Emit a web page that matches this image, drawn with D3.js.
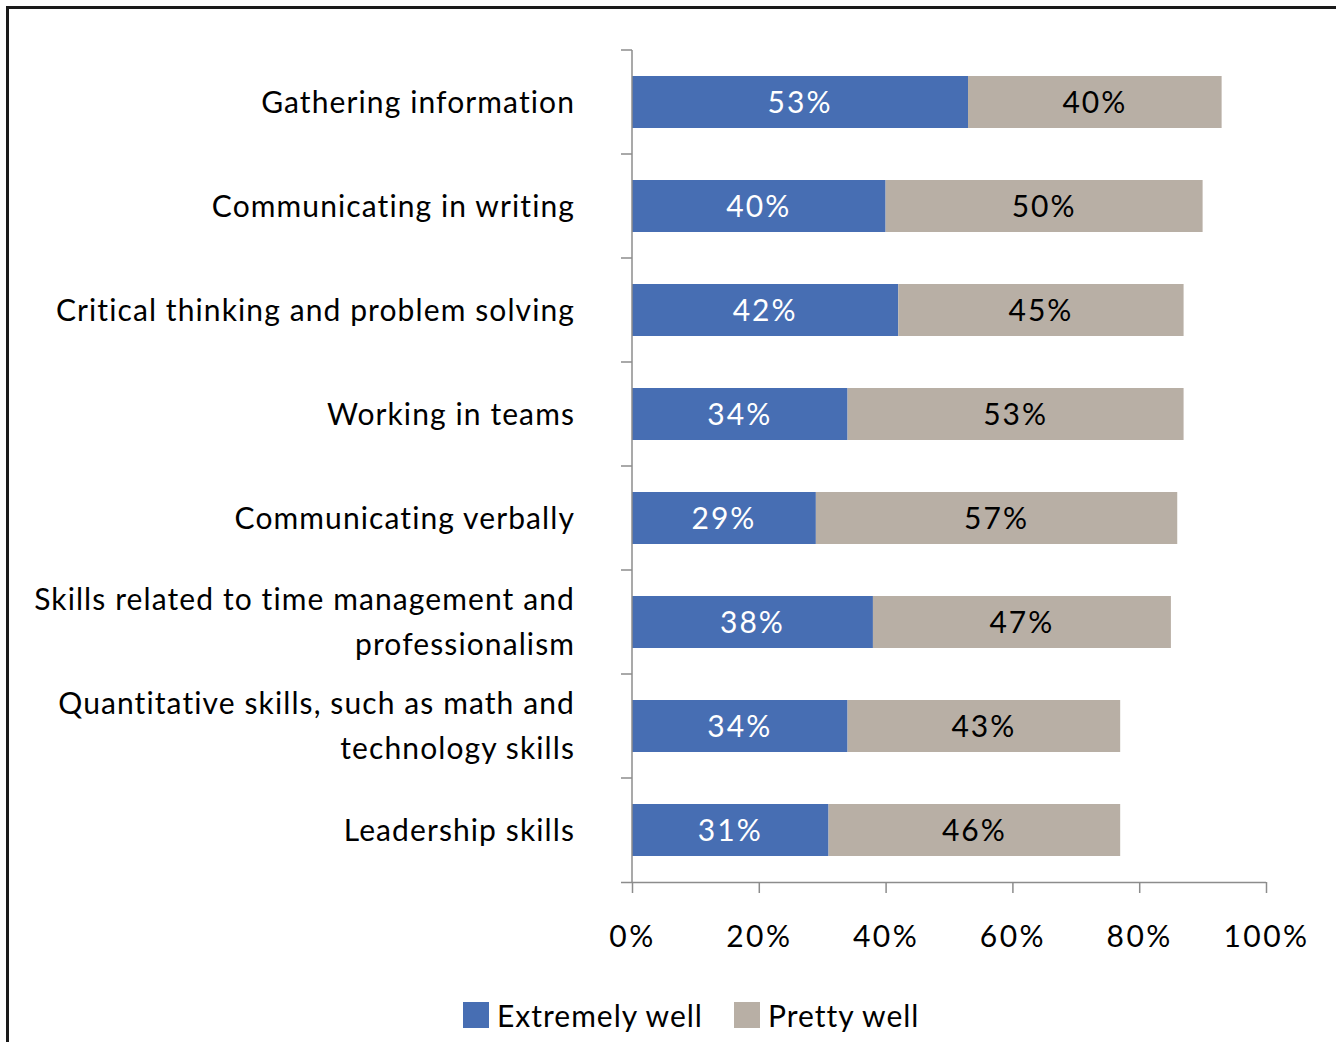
<!DOCTYPE html>
<html>
<head>
<meta charset="utf-8">
<script src="https://cdn.jsdelivr.net/npm/d3@7"></script>
<style>
  body { margin: 0; background: #fff; }
  svg text { font-family: Lato, "Open Sans", sans-serif; }
</style>
</head>
<body>
<div class="chart"></div>
<script>
// data
const categories = [
  'Gathering information',
  'Communicating in writing',
  'Critical thinking and problem solving',
  'Working in teams',
  'Communicating verbally',
  'Skills related to time management and|professionalism',
  'Quantitative skills, such as math and|technology skills',
  'Leadership skills'
];
const extremelyWell = [53, 40, 42, 34, 29, 38, 34, 31];
const prettyWell = [40, 50, 45, 53, 57, 47, 43, 46];
const seriesNames = ['Extremely well', 'Pretty well'];
const tickValues = [0, 20, 40, 60, 80, 100];

const W = 1336, H = 1042;
const blue = '#476eb3', grey = '#b8afa5';

const svg = d3.select('.chart')
  .append('svg')
  .attr('width', W)
  .attr('height', H);

// frame
svg.append('path')
  .attr('d', `M7.5,${H} V7.5 H${W}`)
  .style('fill', 'none')
  .style('stroke', '#1a1a1a')
  .style('stroke-width', 3);

const x = d3.scaleLinear().domain([0, 100]).range([632, 1266]);
const y = d3.scaleBand().domain(categories).range([50, 882]).paddingInner(0.5).paddingOuter(0.25);

const rows = categories.map((c, i) => ({cat: c, a: extremelyWell[i], b: prettyWell[i]}));

// bars
const g = svg.append('g');
g.selectAll('.blue').data(rows).join('rect')
  .attr('x', x(0))
  .attr('y', d => y(d.cat))
  .attr('width', d => x(d.a) - x(0))
  .attr('height', y.bandwidth())
  .style('fill', blue);
g.selectAll('.grey').data(rows).join('rect')
  .attr('x', d => x(d.a))
  .attr('y', d => y(d.cat))
  .attr('width', d => x(d.a + d.b) - x(d.a))
  .attr('height', y.bandwidth())
  .style('fill', grey);

// value labels
g.selectAll('.la').data(rows).join('text')
  .attr('x', d => x(d.a / 2))
  .attr('y', d => y(d.cat) + y.bandwidth() / 2)
  .attr('dy', '0.35em')
  .attr('text-anchor', 'middle')
  .style('font-size', '30px')
  .style('letter-spacing', '2px')
  .style('fill', '#fff')
  .text(d => d.a + '%');
g.selectAll('.lb').data(rows).join('text')
  .attr('x', d => x(d.a + d.b / 2))
  .attr('y', d => y(d.cat) + y.bandwidth() / 2)
  .attr('dy', '0.35em')
  .attr('text-anchor', 'middle')
  .style('font-size', '30px')
  .style('letter-spacing', '2px')
  .style('fill', '#000')
  .text(d => d.b + '%');

// y axis line + ticks at band boundaries
const axisCol = '#8c8c8c';
svg.append('line')
  .attr('x1', x(0)).attr('x2', x(0))
  .attr('y1', 50).attr('y2', 882)
  .style('stroke', axisCol).style('stroke-width', 1.5);
const step = y.step();
for (let i = 0; i < categories.length; i++) {
  svg.append('line')
    .attr('x1', 621).attr('x2', x(0))
    .attr('y1', 50 + i * step).attr('y2', 50 + i * step)
    .style('stroke', axisCol).style('stroke-width', 1.5);
}

// x axis
const xAxis = svg.append('g')
  .attr('transform', 'translate(0,882)')
  .call(d3.axisBottom(x).tickValues(tickValues).tickSize(11).tickFormat(d => d + '%'));
xAxis.select('.domain').attr('d', `M621,0.5H${x(100)}`).style('stroke', axisCol).style('stroke-width', 1.5);
xAxis.selectAll('.tick line').style('stroke', axisCol).style('stroke-width', 1.5);
xAxis.selectAll('.tick text')
  .attr('y', 44)
  .attr('dy', '0.71em')
  .style('font-size', '30px')
  .style('letter-spacing', '2.5px')
  .style('font-family', 'Lato, sans-serif')
  .style('fill', '#000');

// category labels
g.selectAll('.cat').data(rows).join('text')
  .attr('text-anchor', 'end')
  .attr('x', 575)
  .attr('y', d => y(d.cat) + y.bandwidth() / 2)
  .style('font-size', '30px')
  .style('letter-spacing', '1.1px')
  .style('fill', '#000')
  .each(function(d) {
    const lines = d.cat.split('|');
    const t = d3.select(this);
    lines.forEach((ln, k) => {
      t.append('tspan')
        .attr('x', 575)
        .attr('dy', k === 0 ? (0.35 - (lines.length - 1) * 0.75) + 'em' : '1.5em')
        .text(ln);
    });
  });

// legend
const legend = svg.append('g').attr('transform', 'translate(463,1002)');
const legX = [0, 271];
seriesNames.forEach((s, i) => {
  legend.append('rect')
    .attr('x', legX[i]).attr('y', 0)
    .attr('width', 26).attr('height', 26)
    .style('fill', i === 0 ? blue : grey);
  legend.append('text')
    .attr('x', legX[i] + 34).attr('y', 14)
    .attr('dy', '0.35em')
    .style('font-size', '30px')
    .style('letter-spacing', '1px')
    .style('fill', '#000')
    .text(s);
});
</script>
</body>
</html>
